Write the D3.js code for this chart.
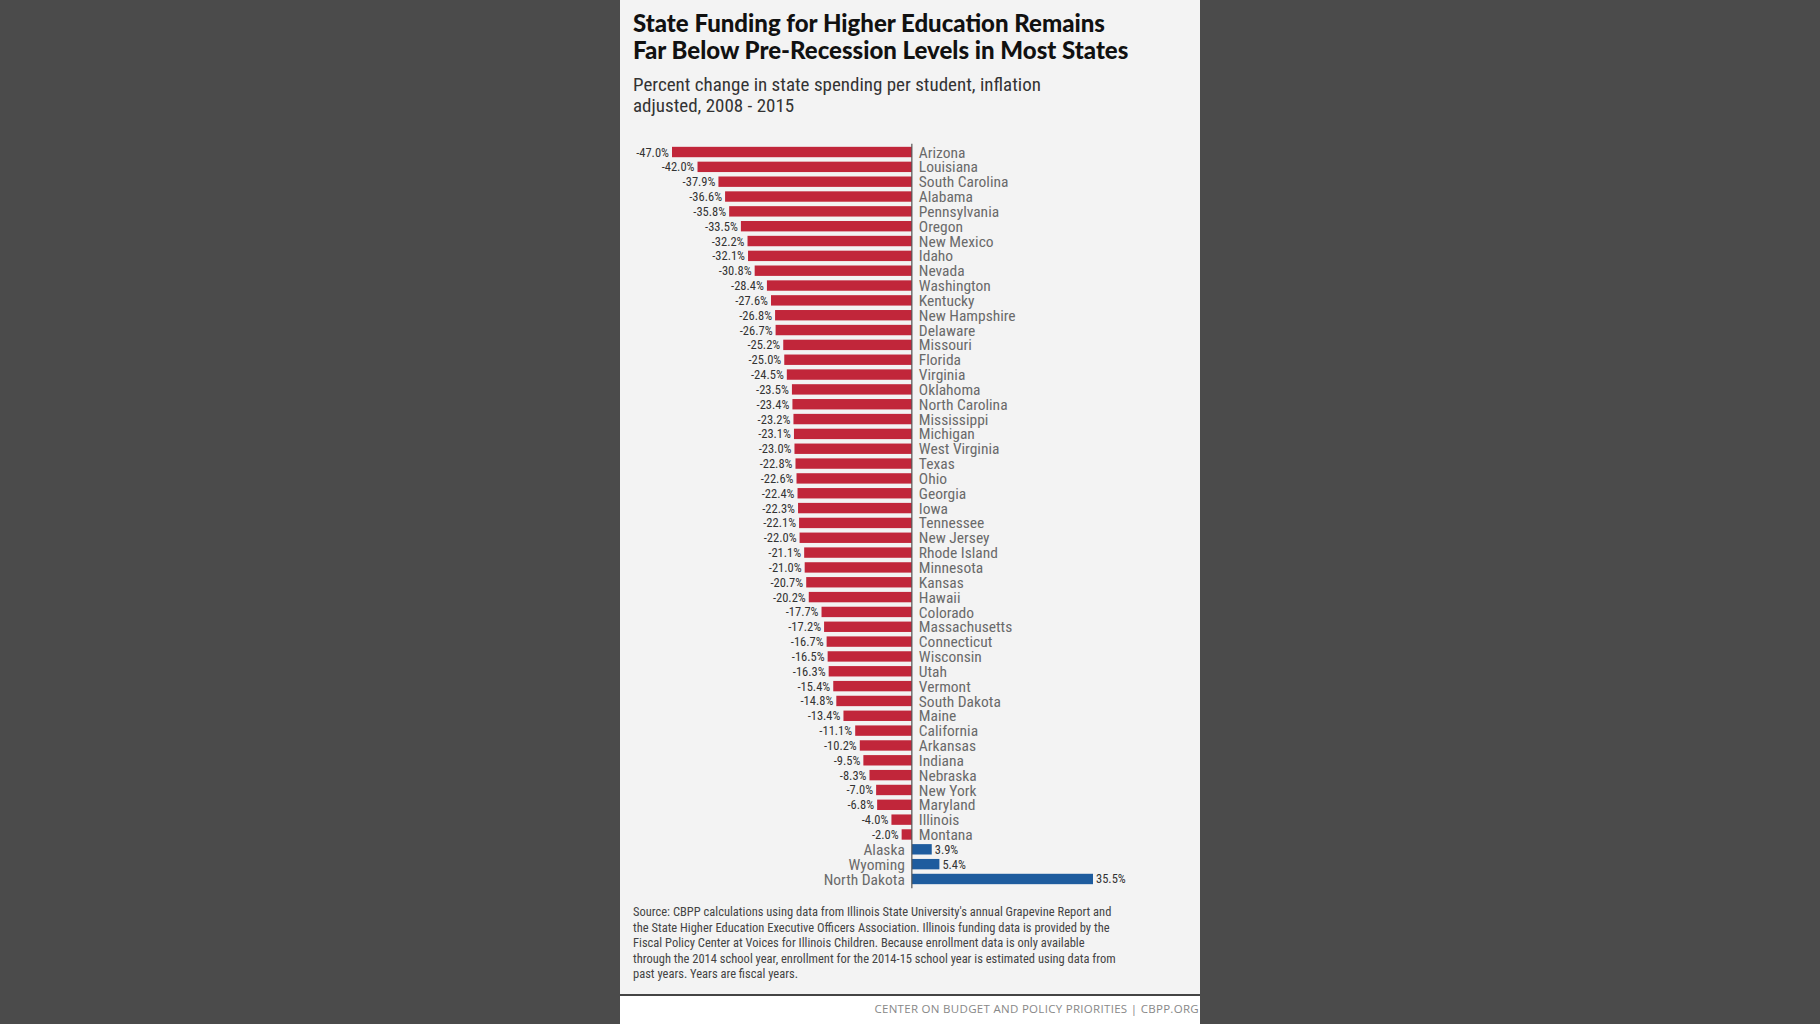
<!DOCTYPE html>
<html><head><meta charset="utf-8">
<script src="https://cdn.jsdelivr.net/npm/d3@7"></script>
<style>body{margin:0;background:#4b4b4b;}</style>
</head><body>
<script>
const states = ["Arizona","Louisiana","South Carolina","Alabama","Pennsylvania","Oregon","New Mexico","Idaho","Nevada","Washington","Kentucky","New Hampshire","Delaware","Missouri","Florida","Virginia","Oklahoma","North Carolina","Mississippi","Michigan","West Virginia","Texas","Ohio","Georgia","Iowa","Tennessee","New Jersey","Rhode Island","Minnesota","Kansas","Hawaii","Colorado","Massachusetts","Connecticut","Wisconsin","Utah","Vermont","South Dakota","Maine","California","Arkansas","Indiana","Nebraska","New York","Maryland","Illinois","Montana","Alaska","Wyoming","North Dakota"];
const values = [-47.0,-42.0,-37.9,-36.6,-35.8,-33.5,-32.2,-32.1,-30.8,-28.4,-27.6,-26.8,-26.7,-25.2,-25.0,-24.5,-23.5,-23.4,-23.2,-23.1,-23.0,-22.8,-22.6,-22.4,-22.3,-22.1,-22.0,-21.1,-21.0,-20.7,-20.2,-17.7,-17.2,-16.7,-16.5,-16.3,-15.4,-14.8,-13.4,-11.1,-10.2,-9.5,-8.3,-7.0,-6.8,-4.0,-2.0,3.9,5.4,35.5];
const titleLines = ["State Funding for Higher Education Remains","Far Below Pre-Recession Levels in Most States"];
const subtitleLines = ["Percent change in state spending per student, inflation","adjusted, 2008 - 2015"];
const sourceLines = ["Source: CBPP calculations using data from Illinois State University's annual Grapevine Report and","the State Higher Education Executive Officers Association.  Illinois funding data is provided by the","Fiscal Policy Center at Voices for Illinois Children.  Because enrollment data is only available","through the 2014 school year, enrollment for the 2014-15 school year is estimated using data from","past years. Years are fiscal years."];

const W = 1820, H = 1024;
const px = 620, pw = 580;
const data = states.map((s,i)=>({state:s, value:values[i]}));
const narrow = "'Liberation Sans Narrow','Roboto Condensed','DejaVu Sans Condensed',Roboto,sans-serif";

const svg = d3.select("body").append("svg").attr("width",W).attr("height",H);
svg.append("rect").attr("width",W).attr("height",H).attr("fill","#4b4b4b");
svg.append("rect").attr("x",px).attr("y",0).attr("width",pw).attr("height",H).attr("fill","#f3f3f3");
svg.append("rect").attr("x",px).attr("y",996).attr("width",pw).attr("height",H-996).attr("fill","#ffffff");
svg.append("line").attr("x1",px).attr("x2",px+pw).attr("y1",995).attr("y2",995).attr("stroke","#444").attr("stroke-width",2);

svg.selectAll(".title").data(titleLines).join("text")
  .attr("x",633).attr("y",(d,i)=>32+i*27)
  .attr("font-family","Lato,'Open Sans',sans-serif").attr("font-weight","900")
  .attr("font-size","24px").attr("fill","#111").text(d=>d);
svg.selectAll(".sub").data(subtitleLines).join("text")
  .attr("x",633).attr("y",(d,i)=>91+i*21)
  .attr("font-family",narrow).attr("font-size","19px").attr("fill","#333").text(d=>d);

const x = d3.scaleLinear().domain([-47,35.5]).range([672,1093]);
const y = d3.scaleBand().domain(states).range([144.6,886.4]).paddingInner(0.3).paddingOuter(0.15);

svg.selectAll(".bar").data(data).join("rect")
  .attr("x",d=>x(Math.min(0,d.value))).attr("y",d=>y(d.state))
  .attr("width",d=>Math.abs(x(d.value)-x(0))).attr("height",y.bandwidth())
  .attr("fill",d=>d.value<0?"#c1263a":"#1e5c9e");

svg.append("line").attr("x1",x(0)).attr("x2",x(0))
  .attr("y1",y(states[0])-3).attr("y2",y(states[states.length-1])+y.bandwidth()+4)
  .attr("stroke","#555").attr("stroke-width",1.2);

const cy = d=>y(d.state)+y.bandwidth()/2;
svg.selectAll(".name").data(data).join("text")
  .attr("x",d=>d.value<0?x(0)+7:x(0)-7).attr("y",cy).attr("dy","0.36em")
  .attr("text-anchor",d=>d.value<0?"start":"end")
  .attr("font-family",narrow).attr("font-size","15.5px").attr("fill","#6a6a6a")
  .text(d=>d.state);
svg.selectAll(".val").data(data).join("text")
  .attr("x",d=>d.value<0?x(d.value)-3:x(d.value)+3).attr("y",cy).attr("dy","0.36em")
  .attr("text-anchor",d=>d.value<0?"end":"start")
  .attr("font-family",narrow).attr("font-size","12.5px").attr("fill","#333")
  .text(d=>d.value.toFixed(1)+"%");

svg.selectAll(".src").data(sourceLines).join("text")
  .attr("x",633).attr("y",(d,i)=>916+i*15.5)
  .attr("font-family",narrow).attr("font-size","12.5px").attr("fill","#444").text(d=>d);

svg.append("text").attr("x",1199).attr("y",1013).attr("text-anchor","end")
  .attr("font-family","'Open Sans',sans-serif").attr("font-size","11.5px").attr("fill","#888")
  .attr("letter-spacing","0.3").text("CENTER ON BUDGET AND POLICY PRIORITIES | CBPP.ORG");
</script>
</body></html>
